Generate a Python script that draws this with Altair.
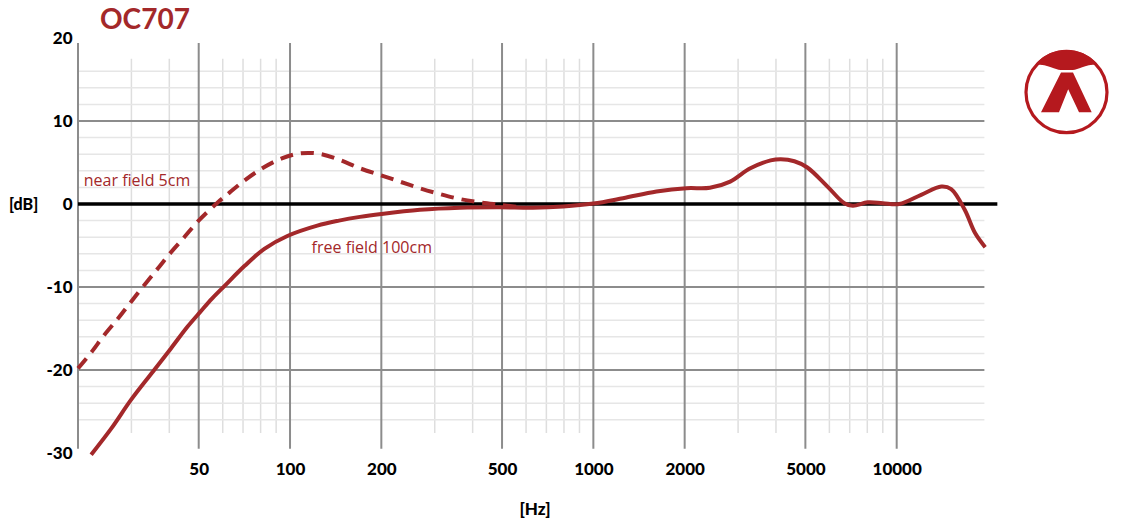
import altair as alt
import pandas as pd

RED = "#a3282a"
FONT = "Lato"

# ---- data ----
free_f = [22.1, 25.8, 29.9, 35.3, 40.5, 45.9, 50.6, 55.3, 61.1, 70.9, 82.3, 98, 123,
          145, 170, 200, 268, 363, 492, 632, 795, 1000, 1253, 1615, 2028, 2422, 2825,
          3293, 3840, 4150, 4600, 5075, 5915, 6720, 7170, 8030, 9000, 10200, 12040,
          14030, 15120, 16760, 18130, 19580]
free_db = [-30.2, -27.0, -23.6, -20.2, -17.4, -14.8, -13.0, -11.4, -9.8, -7.45, -5.4,
           -3.85, -2.6, -2.0, -1.55, -1.2, -0.7, -0.45, -0.4, -0.45, -0.3, 0.05, 0.7, 1.5,
           1.9, 1.95, 2.7, 4.3, 5.25, 5.4, 5.15, 4.4, 2.1, 0.1, -0.2, 0.2, 0.1, 0.0, 1.1,
           2.1, 1.8, -0.7, -3.5, -5.2]

near_f = [20, 22.1, 24.4, 27.1, 29.6, 32.7, 36.6, 40.1, 44.8, 49.7, 57.4, 61.9, 70, 81, 94,
          108, 125, 146, 170, 198, 230, 268, 312, 363, 422, 492, 560]
near_db = [-19.8, -17.9, -15.8, -13.8, -12.0, -10.0, -7.8, -6.0, -4.0, -2.1, 0.1, 1.1, 2.7,
           4.3, 5.5, 6.1, 6.05, 5.3, 4.3, 3.5, 2.7, 1.9, 1.2, 0.6, 0.2, -0.1, -0.35]

x_ticks = [50, 100, 200, 500, 1000, 2000, 5000, 10000]
y_ticks = [-30, -20, -10, 0, 10, 20]
major_f = [20, 50, 100, 200, 500, 1000, 2000, 5000, 10000]
minor_f = [30, 40, 60, 70, 80, 90, 300, 400, 600, 700, 800, 900,
           3000, 4000, 6000, 7000, 8000, 9000]
major_db = [10, -10, -20]
minor_db = [16, 14, 12, 8, 6, 4, 2, -2, -4, -6, -8, -12, -14, -16, -18, -22, -24, -26]

labels_text = ["near field 5cm", "free field 100cm"]
labels_f = [20.9, 117.8]
labels_db = [2.8, -5.27]

# ---- build tables ----
near = pd.DataFrame({"f": near_f, "db": near_db})
free = pd.DataFrame({"f": free_f, "db": free_db})

xs = alt.Scale(type="log", domain=[20, 20000], nice=False)
ys = alt.Scale(domain=[-30, 20], nice=False, zero=False)

x_axis = alt.Axis(values=x_ticks, labelExpr="'' + datum.value", grid=False,
                  ticks=False, domain=False, labelFont=FONT, labelFontSize=17,
                  labelFontWeight=900, labelColor="#000000", labelPadding=8,
                  labelFlush=False, labelOverlap=False, title=None)
y_axis = alt.Axis(values=y_ticks, labelExpr="'' + datum.value", grid=False,
                  ticks=False, domain=False, labelFont=FONT, labelFontSize=17,
                  labelFontWeight=900, labelColor="#000000", labelPadding=6,
                  labelFlush=False, labelOverlap=False, title=None)

def X(field):
    return alt.X(field, scale=xs, axis=x_axis, title=None)

def Y(field):
    return alt.Y(field, scale=ys, axis=y_axis, title=None)

def vrules(freqs, top, bottom):
    return pd.DataFrame({"f": freqs, "y1": [top] * len(freqs), "y2": [bottom] * len(freqs)})

def hrules(dbs, left, right):
    return pd.DataFrame({"db": dbs, "x1": [left] * len(dbs), "x2": [right] * len(dbs)})

minor_v = alt.Chart(vrules(minor_f, 17.5, -27.6)).mark_rule(
    color="#dedede", strokeWidth=1.5).encode(
    x=X("f:Q"), y=Y("y1:Q"), y2="y2:Q")

minor_h = alt.Chart(hrules(minor_db, 20, 19460)).mark_rule(
    color="#e6e6e6", strokeWidth=1.5).encode(
    y=Y("db:Q"), x=X("x1:Q"), x2="x2:Q")

major_h = alt.Chart(hrules(major_db, 20, 19460)).mark_rule(
    color="#8c8c8c", strokeWidth=2).encode(
    y=Y("db:Q"), x=X("x1:Q"), x2="x2:Q")

major_v = alt.Chart(vrules(major_f, 19.4, -29.5)).mark_rule(
    color="#8c8c8c", strokeWidth=2).encode(
    x=X("f:Q"), y=Y("y1:Q"), y2="y2:Q")

zero = alt.Chart(hrules([0], 20, 21470)).mark_rule(
    color="#000000", strokeWidth=3.5).encode(
    y=Y("db:Q"), x=X("x1:Q"), x2="x2:Q")

free_line = alt.Chart(free).mark_line(
    color=RED, strokeWidth=4, interpolate="catmull-rom").encode(
    x=X("f:Q"), y=Y("db:Q"))

near_line = alt.Chart(near).mark_line(
    color=RED, strokeWidth=4, interpolate="catmull-rom", strokeDash=[13, 8]).encode(
    x=X("f:Q"), y=Y("db:Q"))

labels = alt.Chart(pd.DataFrame({"t": labels_text, "f": labels_f, "db": labels_db})).mark_text(
    color=RED, font="Open Sans", fontSize=16, align="left", baseline="middle").encode(
    x=X("f:Q"), y=Y("db:Q"), text="t:N")

title = alt.Chart(pd.DataFrame({"t": ["OC707"]})).mark_text(
    color=RED, font=FONT, fontSize=28, fontWeight="bold", align="left",
    baseline="alphabetic").encode(x=alt.value(22), y=alt.value(-9.5), text="t:N")

db_lab = alt.Chart(pd.DataFrame({"t": ["[dB]"]})).mark_text(
    color="#000000", font=FONT, fontSize=16, fontWeight=900, align="left",
    baseline="middle").encode(x=alt.value(-69), y=alt.value(166.7), text="t:N")

hz_lab = alt.Chart(pd.DataFrame({"t": ["[Hz]"]})).mark_text(
    color="#000000", font=FONT, fontSize=17, fontWeight=900, align="center",
    baseline="middle").encode(x=alt.value(457), y=alt.value(471.5), text="t:N")

# logo (decoration)
LOGO_X, LOGO_Y = 988.5, 54.2
ring = alt.Chart(pd.DataFrame({"k": [1]})).mark_point(
    shape="circle", filled=False, size=6561, strokeWidth=3.2, color="#b5191e",
    opacity=1).encode(x=alt.value(LOGO_X), y=alt.value(LOGO_Y))
logo_path = ("M -0.74 -0.66 A 0.96 0.96 0 0 1 0.74 -0.66 "
             "C 0.42 -0.66 0.28 -0.53 0.15 -0.53 L -0.14 -0.53 "
             "C -0.27 -0.53 -0.42 -0.66 -0.74 -0.66 Z "
             "M -0.607 0.48 L -0.131 -0.47 L 0.155 -0.47 L 0.6 0.48 L 0.298 0.48 "
             "L 0.04 -0.07 L -0.179 0.48 Z")
logo = alt.Chart(pd.DataFrame({"k": [1]})).mark_point(
    shape=logo_path, filled=True, size=7056, strokeWidth=0, color="#b5191e",
    opacity=1).encode(x=alt.value(LOGO_X), y=alt.value(LOGO_Y))

chart = alt.layer(
    minor_v, minor_h, major_h, major_v, zero, free_line, near_line,
    labels, title, db_lab, hz_lab, ring, logo
).properties(
    width=910, height=415,
    padding={"left": 70, "top": 30, "right": 141, "bottom": 66},
    autosize=alt.AutoSizeParams(type="none"),
    background="#ffffff",
).configure_view(stroke=None)

chart.save("out.html", embed_options={"renderer": "svg", "actions": False})
